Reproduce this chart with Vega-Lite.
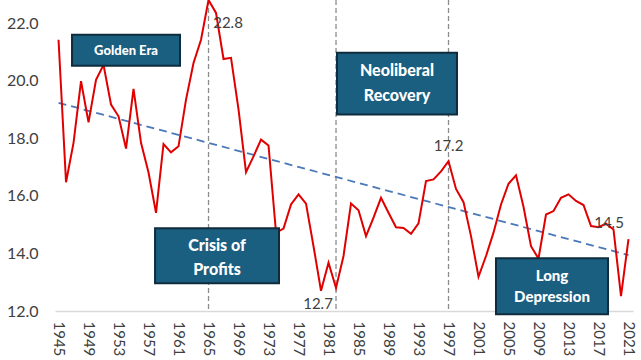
{
  "$schema": "https://vega.github.io/schema/vega-lite/v6.json",
  "width": 578,
  "height": 311,
  "autosize": {"type": "none"},
  "padding": {"left": 55, "top": 0, "right": 8, "bottom": 49},
  "background": "white",
  "config": {
    "view": {"stroke": null},
    "font": "Lato",
    "axisY": {"labelFontSize": 16, "labelColor": "#404040", "labelPadding": 17, "ticks": false, "grid": false, "domain": false, "title": null, "labelFont": "Lato"}
  },
  "datasets": {
    "series": [
      {"year": 1945, "value": 21.42}, {"year": 1946, "value": 16.47}, {"year": 1947, "value": 17.84},
      {"year": 1948, "value": 19.98}, {"year": 1949, "value": 18.55}, {"year": 1950, "value": 20.03},
      {"year": 1951, "value": 20.55}, {"year": 1952, "value": 19.17}, {"year": 1953, "value": 18.76},
      {"year": 1954, "value": 17.64}, {"year": 1955, "value": 19.71}, {"year": 1956, "value": 17.84},
      {"year": 1957, "value": 16.81}, {"year": 1958, "value": 15.41}, {"year": 1959, "value": 17.8},
      {"year": 1960, "value": 17.51}, {"year": 1961, "value": 17.72}, {"year": 1962, "value": 19.34},
      {"year": 1963, "value": 20.61}, {"year": 1964, "value": 21.42}, {"year": 1965, "value": 22.8},
      {"year": 1966, "value": 22.35}, {"year": 1967, "value": 20.75}, {"year": 1968, "value": 20.79},
      {"year": 1969, "value": 19.0}, {"year": 1970, "value": 16.82}, {"year": 1971, "value": 17.37},
      {"year": 1972, "value": 17.95}, {"year": 1973, "value": 17.75}, {"year": 1974, "value": 14.72},
      {"year": 1975, "value": 14.86}, {"year": 1976, "value": 15.7}, {"year": 1977, "value": 16.05},
      {"year": 1978, "value": 15.73}, {"year": 1979, "value": 14.25}, {"year": 1980, "value": 12.7},
      {"year": 1981, "value": 13.68}, {"year": 1982, "value": 12.8}, {"year": 1983, "value": 13.91},
      {"year": 1984, "value": 15.73}, {"year": 1985, "value": 15.5}, {"year": 1986, "value": 14.6},
      {"year": 1987, "value": 15.24}, {"year": 1988, "value": 15.93}, {"year": 1989, "value": 15.41},
      {"year": 1990, "value": 14.91}, {"year": 1991, "value": 14.88}, {"year": 1992, "value": 14.68},
      {"year": 1993, "value": 15.04}, {"year": 1994, "value": 16.51}, {"year": 1995, "value": 16.57},
      {"year": 1996, "value": 16.85}, {"year": 1997, "value": 17.2}, {"year": 1998, "value": 16.24},
      {"year": 1999, "value": 15.78}, {"year": 2000, "value": 14.6}, {"year": 2001, "value": 13.19},
      {"year": 2002, "value": 13.91}, {"year": 2003, "value": 14.72}, {"year": 2004, "value": 15.7},
      {"year": 2005, "value": 16.42}, {"year": 2006, "value": 16.71}, {"year": 2007, "value": 15.62},
      {"year": 2008, "value": 14.25}, {"year": 2009, "value": 13.82}, {"year": 2010, "value": 15.35},
      {"year": 2011, "value": 15.47}, {"year": 2012, "value": 15.93}, {"year": 2013, "value": 16.05},
      {"year": 2014, "value": 15.82}, {"year": 2015, "value": 15.68}, {"year": 2016, "value": 14.95},
      {"year": 2017, "value": 14.91}, {"year": 2018, "value": 15.03}, {"year": 2019, "value": 14.83},
      {"year": 2020, "value": 12.52}, {"year": 2021, "value": 14.5}
    ],
    "trend": [{"year": 1945, "value": 19.23}, {"year": 2021, "value": 13.94}],
    "periods": [{"year": 1965}, {"year": 1982}, {"year": 1997}],
    "boxes": [
      {"name": "Golden Era", "year": 1946.8, "year2": 1961.2, "y1": 21.59, "y2": 20.52},
      {"name": "Neoliberal Recovery", "year": 1982.13, "year2": 1998.13, "y1": 20.97, "y2": 18.82},
      {"name": "Crisis of Profits", "year": 1957.87, "year2": 1974.4, "y1": 14.87, "y2": 12.96},
      {"name": "Long Depression", "year": 2003.33, "year2": 2018.27, "y1": 13.83, "y2": 11.89}
    ],
    "boxtext": [
      {"year": 1954.0, "y": 21.03, "label": "Golden Era", "size": 13},
      {"year": 1990.13, "y": 20.35, "label": "Neoliberal", "size": 16},
      {"year": 1990.13, "y": 19.48, "label": "Recovery", "size": 16},
      {"year": 1966.13, "y": 14.24, "label": "Crisis of", "size": 16},
      {"year": 1966.13, "y": 13.41, "label": "Profits", "size": 16},
      {"year": 2010.8, "y": 13.2, "label": "Long", "size": 15},
      {"year": 2010.8, "y": 12.47, "label": "Depression", "size": 15}
    ],
    "valuelabels": [
      {"year": 1967.6, "y": 22.0, "label": "22.8", "align": "left"},
      {"year": 1997, "y": 17.72, "label": "17.2", "align": "center"},
      {"year": 1979.6, "y": 12.23, "label": "12.7", "align": "center"},
      {"year": 2018.4, "y": 15.07, "label": "14.5", "align": "left"}
    ]
  },
  "encoding": {
    "x": {"field": "year", "type": "quantitative", "scale": {"domain": [1944.53, 2021.6], "nice": false, "zero": false},
      "axis": {"values": [1945, 1949, 1953, 1957, 1961, 1965, 1969, 1973, 1977, 1981, 1985, 1989, 1993, 1997, 2001, 2005, 2009, 2013, 2017, 2021],
        "format": "d", "labelOverlap": false, "labelSeparation": 0, "labelFlush": false, "labelAngle": 90, "labelAlign": "left", "labelBaseline": "middle",
        "labelFontSize": 15, "labelColor": "#404040", "labelPadding": 10, "ticks": false, "grid": false, "domainColor": "#d9d9d9", "domainWidth": 1.5,
        "labelFont": "Lato", "title": null}}
  },
  "layer": [
    {
      "data": {"name": "periods"},
      "mark": {"type": "rule", "color": "#8c8c8c", "strokeDash": [5, 3], "strokeWidth": 1.3},
      "encoding": {}
    },
    {
      "data": {"name": "trend"},
      "mark": {"type": "line", "color": "#4a78b8", "strokeDash": [8, 5], "strokeWidth": 1.8},
      "encoding": {
        "y": {"field": "value", "type": "quantitative", "scale": {"domain": [12, 22.8], "nice": false, "zero": false},
          "axis": {"values": [12, 14, 16, 18, 20, 22], "format": ".1f"}}
      }
    },
    {
      "data": {"name": "series"},
      "mark": {"type": "line", "color": "#e00000", "strokeWidth": 2},
      "encoding": {
        "y": {"field": "value", "type": "quantitative"}
      }
    },
    {
      "data": {"name": "boxes"},
      "mark": {"type": "rect", "fill": "#1a5e80", "stroke": "#0f2c3d", "strokeWidth": 2},
      "encoding": {
        "x2": {"field": "year2"},
        "y": {"field": "y1", "type": "quantitative"},
        "y2": {"field": "y2"}
      }
    },
    {
      "data": {"name": "boxtext"},
      "mark": {"type": "text", "color": "white", "fontWeight": 900, "font": "Lato", "align": "center", "baseline": "middle"},
      "encoding": {
        "y": {"field": "y", "type": "quantitative"},
        "text": {"field": "label"},
        "size": {"field": "size", "type": "quantitative", "scale": null}
      }
    },
    {
      "data": {"name": "valuelabels"},
      "mark": {"type": "text", "color": "#404040", "fontSize": 15, "font": "Lato", "baseline": "middle"},
      "encoding": {
        "y": {"field": "y", "type": "quantitative"},
        "text": {"field": "label"},
        "align": {"field": "align", "scale": null}
      }
    }
  ]
}
